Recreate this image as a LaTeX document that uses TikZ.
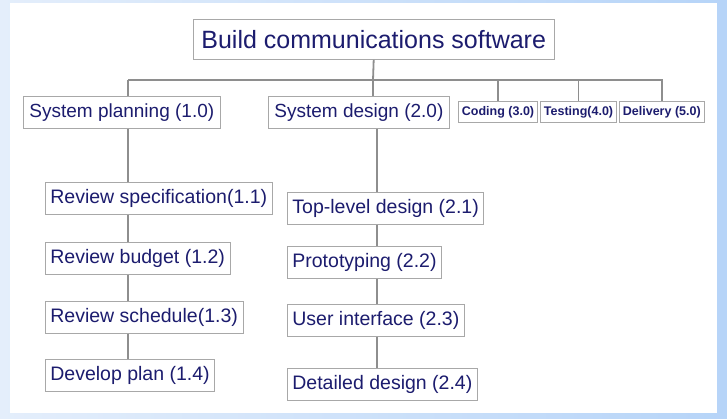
\documentclass[tikz,border=0pt]{standalone}
\usepackage{fontspec}
\setmainfont{Liberation Sans}
\usetikzlibrary{positioning}
\definecolor{navytext}{HTML}{1C1C6E}
\definecolor{boxgray}{HTML}{A8A8A8}
\definecolor{linkgray}{HTML}{8E8E8E}
\definecolor{paleblue}{HTML}{E4EEFB}
\definecolor{skyblue}{HTML}{B6D4F8}

\begin{document}
\begin{tikzpicture}[
  x=1pt, y=-1pt,
  box/.style={draw=boxgray, line width=0.8pt, fill=white, text=navytext,
    anchor=north west, inner ysep=0pt},
  rootbox/.style={box, font=\fontsize{25}{28}\selectfont, inner xsep=8pt, minimum height=40pt},
  taskbox/.style={box, font=\fontsize{19}{22}\selectfont, inner xsep=6pt, minimum height=32pt},
  smallbox/.style={box, font=\fontsize{12.5}{14}\selectfont\bfseries, inner xsep=3.5pt, minimum height=21pt},
  subbox/.style={box, font=\fontsize{19.5}{22}\selectfont, inner xsep=5pt, minimum height=32pt},
  link/.style={linkgray, line width=1.8pt},
]

% ===== frame =====
\useasboundingbox (0,0) rectangle (727,418);
\shade[left color=paleblue, right color=skyblue] (0,0) rectangle (727,418);
\fill[white] (10,3) rectangle (717,413);

% ===== top =====
\node[rootbox] (root) at (193,19) {Build communications software};

% ===== first level =====
\node[taskbox] (planning) at (23,96) {System planning (1.0)};
\node[taskbox] (design) at (268,96) {System design (2.0)};
\node[smallbox] (coding) at (458,101) {Coding (3.0)};
\node[smallbox] (testing) at (540,101) {Testing(4.0)};
\node[smallbox] (delivery) at (619,101) {Delivery (5.0)};

% ===== planning tasks =====
\node[subbox] (spec) at (45,182) {Review specification(1.1)};
\node[subbox] (budget) at (45,242) {Review budget (1.2)};
\node[subbox] (sched) at (45,301) {Review schedule(1.3)};
\node[subbox] (devplan) at (45,359) {Develop plan (1.4)};

% ===== design tasks =====
\node[subbox] (toplevel) at (287,192) {Top-level design (2.1)};
\node[subbox] (proto) at (287,246) {Prototyping (2.2)};
\node[subbox] (ui) at (287,304) {User interface (2.3)};
\node[subbox] (detail) at (287,368) {Detailed design (2.4)};

% ===== connectors =====
\coordinate (bus) at (373,80);
\coordinate (pl) at (128,80);
\coordinate (dl) at (377,80);
\draw[link] (root.south) -- (bus);
\draw[link] (pl) -- (bus -| delivery.north) -- (delivery.north);
\draw[link] (pl) -- (pl |- planning.north);
\draw[link] (bus) -- (bus |- design.north);
\foreach \n in {coding, testing}
  \draw[link] (bus -| \n.north) -- (\n.north);

% chains below
\foreach \a/\b in {planning/spec, spec/budget, budget/sched, sched/devplan}
  \draw[link] (pl |- \a.south) -- (pl |- \b.north);
\foreach \a/\b in {design/toplevel, toplevel/proto, proto/ui, ui/detail}
  \draw[link] (dl |- \a.south) -- (dl |- \b.north);

\end{tikzpicture}
\end{document}
